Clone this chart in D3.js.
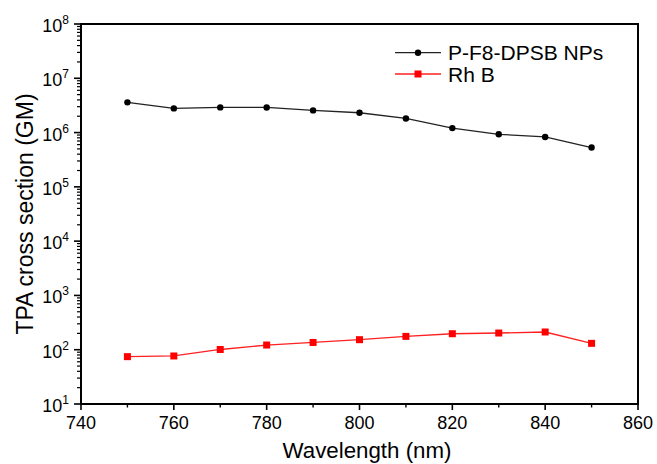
<!DOCTYPE html>
<html><head><meta charset="utf-8">
<script src="https://cdn.jsdelivr.net/npm/d3@7"></script>
<style>
html,body{margin:0;padding:0;background:#fff;}
svg{display:block;font-family:"Liberation Sans",Arial,sans-serif;}
</style></head>
<body><svg id="c" width="657" height="464"></svg>
<script>
const wavelengths = [750, 760, 770, 780, 790, 800, 810, 820, 830, 840, 850];
const pf8Values = [3.6e6, 2.79e6, 2.91e6, 2.9e6, 2.56e6, 2.32e6, 1.82e6, 1.21e6, 9.3e5, 8.3e5, 5.3e5];
const rhbValues = [74.5, 76.7, 101, 122, 136, 153, 176, 197, 203, 212, 131];
const seriesNames = ["P-F8-DPSB NPs", "Rh B"];
const xTicks = [740, 760, 780, 800, 820, 840, 860];
const yExponents = [1, 2, 3, 4, 5, 6, 7, 8];
const xTitle = "Wavelength (nm)";
const yTitle = "TPA cross section (GM)";

const svg = d3.select("#c");
const L = 81, R = 638, T = 24, B = 404;
const x = d3.scaleLinear().domain([740, 860]).range([L, R]);
const y = d3.scaleLog().domain([1e1, 1e8]).range([B, T]);

// minor ticks
const xMinor = d3.range(750, 860, 20);
const yMinor = [];
for (let e = 1; e < 8; e++) for (let m = 2; m <= 9; m++) yMinor.push(m * Math.pow(10, e));

const g = svg.append("g");
// x ticks
g.selectAll(".xmaj").data(xTicks).join("line")
  .attr("x1", d => x(d)).attr("x2", d => x(d)).attr("y1", B).attr("y2", B + 6)
  .attr("stroke", "#000").attr("stroke-width", 1.6);
g.selectAll(".xmin").data(xMinor).join("line")
  .attr("x1", d => x(d)).attr("x2", d => x(d)).attr("y1", B).attr("y2", B + 3.5)
  .attr("stroke", "#000").attr("stroke-width", 1.4);
g.selectAll(".xlab").data(xTicks).join("text")
  .attr("x", d => x(d)).attr("y", B + 25).attr("text-anchor", "middle")
  .attr("font-size", 18).attr("fill", "#000").text(d => d);
// y ticks
g.selectAll(".ymaj").data(yExponents).join("line")
  .attr("x1", L - 7).attr("x2", L).attr("y1", d => y(Math.pow(10, d))).attr("y2", d => y(Math.pow(10, d)))
  .attr("stroke", "#000").attr("stroke-width", 1.6);
g.selectAll(".ymin").data(yMinor).join("line")
  .attr("x1", L - 4).attr("x2", L).attr("y1", d => y(d)).attr("y2", d => y(d))
  .attr("stroke", "#000").attr("stroke-width", 1.2);
const yl = g.selectAll(".ylab").data(yExponents).join("text")
  .attr("x", L - 12).attr("y", d => y(Math.pow(10, d)) + 8).attr("text-anchor", "end")
  .attr("font-size", 18).attr("fill", "#000");
yl.append("tspan").text("10");
yl.append("tspan").attr("font-size", 12).attr("dy", -8).text(d => d);

// frame
svg.append("rect").attr("x", L).attr("y", T).attr("width", R - L).attr("height", B - T)
  .attr("fill", "none").attr("stroke", "#000").attr("stroke-width", 2);

// titles
svg.append("text").attr("x", 367).attr("y", 458).attr("text-anchor", "middle")
  .attr("font-size", 22.3).attr("fill", "#000").text(xTitle);
svg.append("text").attr("transform", `translate(33,${(T + B) / 2}) rotate(-90)`)
  .attr("text-anchor", "middle").attr("font-size", 23).attr("fill", "#000").text(yTitle);

// series
const line = d3.line().x(d => x(d[0])).y(d => y(d[1]));
const pf8 = wavelengths.map((w, i) => [w, pf8Values[i]]);
const rhb = wavelengths.map((w, i) => [w, rhbValues[i]]);
svg.append("path").datum(pf8).attr("d", line).attr("fill", "none").attr("stroke", "#222").attr("stroke-width", 1.3);
svg.selectAll(".pc").data(pf8).join("circle").attr("cx", d => x(d[0])).attr("cy", d => y(d[1])).attr("r", 3.2).attr("fill", "#000");
svg.append("path").datum(rhb).attr("d", line).attr("fill", "none").attr("stroke", "#ff2020").attr("stroke-width", 1.3);
svg.selectAll(".rs").data(rhb).join("rect").attr("x", d => x(d[0]) - 3.5).attr("y", d => y(d[1]) - 3.5).attr("width", 7).attr("height", 7).attr("fill", "#ff0000");

// legend
const leg = svg.append("g");
const legY = [52.7, 74];
leg.append("line").attr("x1", 395).attr("x2", 441).attr("y1", legY[0]).attr("y2", legY[0]).attr("stroke", "#222").attr("stroke-width", 1.3);
leg.append("circle").attr("cx", 418).attr("cy", legY[0]).attr("r", 3.2).attr("fill", "#000");
leg.append("line").attr("x1", 395).attr("x2", 441).attr("y1", legY[1]).attr("y2", legY[1]).attr("stroke", "#ff2020").attr("stroke-width", 1.3);
leg.append("rect").attr("x", 418 - 3.5).attr("y", legY[1] - 3.5).attr("width", 7).attr("height", 7).attr("fill", "#ff0000");
leg.selectAll("text").data(seriesNames).join("text")
  .attr("x", 448).attr("y", (d, i) => legY[i] + 7.5).attr("font-size", 21).attr("fill", "#000").text(d => d);
</script></body></html>
